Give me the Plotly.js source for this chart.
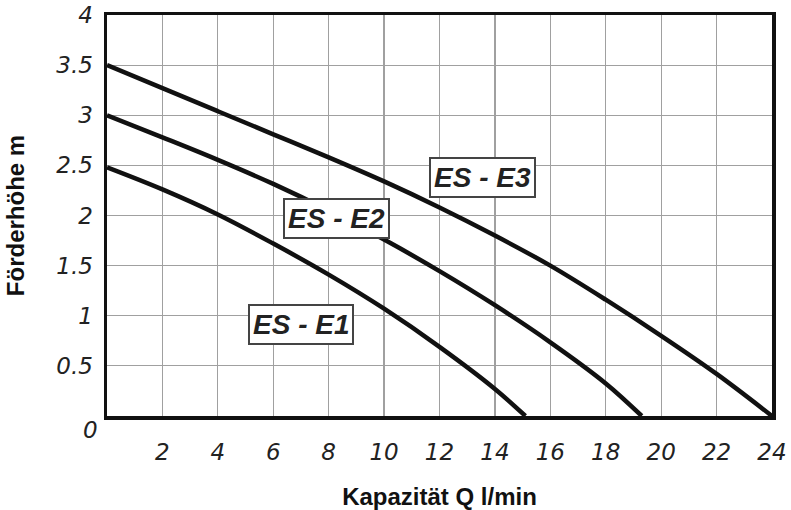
<!DOCTYPE html>
<html>
<head>
<meta charset="utf-8">
<script src="https://cdn.plot.ly/plotly-3.0.1.min.js"></script>
<style>html,body{margin:0;padding:0;background:#fff;}#chart{width:791px;height:510px;}</style>
</head>
<body>
<div id="chart"></div>
<script>
// Data
const e3_x = [0, 2, 4, 6, 8, 10, 12, 14, 16, 18, 20, 22, 24];
const e3_y = [3.5, 3.27, 3.04, 2.81, 2.58, 2.34, 2.08, 1.80, 1.50, 1.16, 0.80, 0.42, 0];
const e2_x = [0, 2, 4, 6, 8, 10, 12, 14, 16, 18, 19.3];
const e2_y = [3.0, 2.78, 2.555, 2.315, 2.05, 1.76, 1.445, 1.105, 0.735, 0.325, 0];
const e1_x = [0, 2, 4, 6, 8, 10, 12, 14, 15.1];
const e1_y = [2.48, 2.26, 2.01, 1.72, 1.41, 1.07, 0.69, 0.27, 0];
const xTicks = [2, 4, 6, 8, 10, 12, 14, 16, 18, 20, 22, 24];
const yTicks = [0.5, 1, 1.5, 2, 2.5, 3, 3.5, 4];
const yTickText = ['0.5', '1', '1.5', '2', '2.5', '3', '3.5', '4'];
const labels = ['ES - E3', 'ES - E2', 'ES - E1'];
const labelX = [13.54, 8.27, 6.99];
const labelY = [2.375, 1.97, 0.91];

const lineStyle = {color: '#111', width: 4.5, shape: 'spline', smoothing: 1};
const traces = [
  {x: e3_x, y: e3_y, mode: 'lines', line: lineStyle, hoverinfo: 'none'},
  {x: e2_x, y: e2_y, mode: 'lines', line: lineStyle, hoverinfo: 'none'},
  {x: e1_x, y: e1_y, mode: 'lines', line: lineStyle, hoverinfo: 'none'}
];

const tickFont = {family: 'DejaVu Sans', size: 23, color: '#222', style: 'italic', weight: 'normal'};
const titleFont = {family: 'Liberation Sans, Arial, sans-serif', size: 24, color: '#111', weight: 'bold'};

const annotations = labels.map((t, i) => ({
  x: labelX[i], y: labelY[i], xref: 'x', yref: 'y', text: t, showarrow: false,
  font: {family: 'Liberation Sans, Arial, sans-serif', size: 28, color: '#222', style: 'italic', weight: 'bold'},
  bgcolor: '#fff', bordercolor: '#444', borderwidth: 2, borderpad: 3
}));
annotations.push({
  x: -0.025, y: -0.034, xref: 'paper', yref: 'paper', text: '0', showarrow: false,
  font: tickFont, xanchor: 'center', yanchor: 'middle'
});

const layout = {
  width: 791, height: 510,
  margin: {l: 107, r: 19, t: 15, b: 94},
  paper_bgcolor: '#fff', plot_bgcolor: '#fff',
  showlegend: false,
  xaxis: {
    range: [0, 24], tickvals: xTicks, ticks: '', tickfont: tickFont,
    ticklabelstandoff: 13,
    showgrid: true, gridcolor: '#a0a0a0', gridwidth: 1.2, zeroline: false,
    showline: true, linecolor: '#111', linewidth: 3.5, mirror: true,
    automargin: false, fixedrange: true,
    title: {text: 'Kapazität Q l/min', font: titleFont, standoff: 26}
  },
  yaxis: {
    range: [0, 4], tickvals: yTicks, ticktext: yTickText, ticks: '', tickfont: tickFont,
    ticklabelstandoff: 6,
    showgrid: true, gridcolor: '#a0a0a0', gridwidth: 1.2, zeroline: false,
    showline: true, linecolor: '#111', linewidth: 3.5, mirror: true,
    automargin: false, fixedrange: true,
    title: {text: 'Förderhöhe m', font: titleFont, standoff: 26}
  },
  annotations: annotations
};

Plotly.newPlot('chart', traces, layout, {displayModeBar: false, staticPlot: true});
</script>
</body>
</html>
